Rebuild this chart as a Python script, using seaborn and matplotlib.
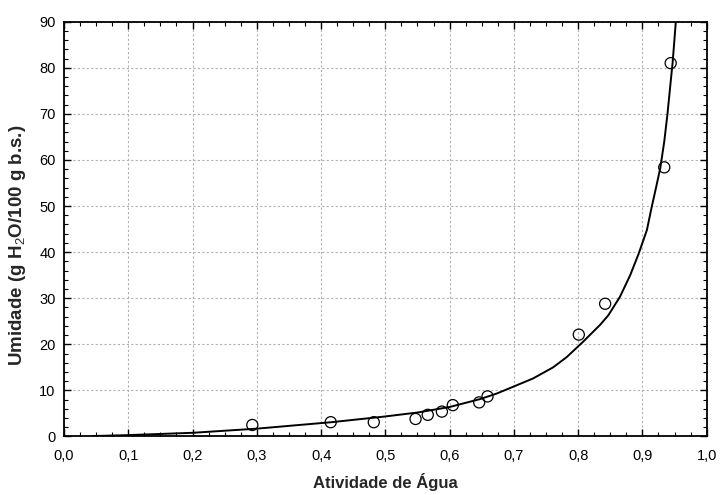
import matplotlib
matplotlib.use("Agg")
import matplotlib.pyplot as plt
from matplotlib.ticker import MultipleLocator, FuncFormatter
import pandas as pd
import seaborn as sns

aw_exp = [0.293, 0.415, 0.482, 0.547, 0.566, 0.588, 0.605, 0.646, 0.659,
          0.801, 0.842, 0.934, 0.944]
umid_exp = [2.5, 3.1, 3.1, 3.8, 4.7, 5.4, 6.8, 7.4, 8.7,
            22.1, 28.8, 58.4, 81.0]

# curva ajustada
aw_fit = [0.045, 0.10, 0.20, 0.30, 0.416, 0.497, 0.55, 0.60, 0.647, 0.673,
          0.699, 0.730, 0.761, 0.782, 0.808, 0.834, 0.847, 0.865, 0.881,
          0.894, 0.907, 0.914, 0.922, 0.928, 0.934, 0.939, 0.944, 0.947,
          0.952]
umid_fit = [0.1, 0.3, 0.8, 1.7, 3.1, 4.3, 5.2, 6.4, 8.1, 9.3,
            10.8, 12.6, 15.0, 17.2, 20.6, 24.2, 26.3, 30.3, 35.0,
            39.6, 44.8, 49.5, 54.5, 58.4, 64.0, 70.0, 77.0, 81.1,
            90.0]

sns.set_theme(style="ticks")
plt.rcParams["font.family"] = ["Liberation Sans", "DejaVu Sans"]
plt.rcParams["mathtext.fontset"] = "custom"
plt.rcParams["mathtext.rm"] = "Liberation Sans"
plt.rcParams["mathtext.it"] = "Liberation Sans:italic"
plt.rcParams["mathtext.bf"] = "Liberation Sans:bold"

df_exp = pd.DataFrame({"aw": aw_exp, "u": umid_exp})
df_fit = pd.DataFrame({"aw": aw_fit, "u": umid_fit})

fig = plt.figure(figsize=(7.2, 4.95), dpi=100)
ax = fig.add_axes([0.0889, 0.1182, 0.8926, 0.8380])

sns.lineplot(data=df_fit, x="aw", y="u", color="black", linewidth=1.4,
             sort=False, estimator=None, ax=ax, zorder=3)
sns.scatterplot(data=df_exp, x="aw", y="u", s=64, facecolor="none",
                edgecolor="black", linewidth=0.9, ax=ax, zorder=4)

ax.set_xlim(0, 1.0)
ax.set_ylim(0, 90)
ax.xaxis.set_major_locator(MultipleLocator(0.1))
ax.xaxis.set_minor_locator(MultipleLocator(0.025))
ax.yaxis.set_major_locator(MultipleLocator(10))
ax.yaxis.set_minor_locator(MultipleLocator(2))
ax.xaxis.set_major_formatter(FuncFormatter(lambda v, p: f"{v:.1f}".replace(".", ",")))

ax.grid(True, which="major", color="#b0b0b0", linestyle=(0, (2, 2)), linewidth=0.8)
ax.tick_params(which="both", direction="in", top=True, right=True,
               color="black", labelsize=10.5, colors="black")
ax.tick_params(which="major", length=5, width=1)
ax.tick_params(which="minor", length=3, width=0.8)
ax.tick_params(axis="x", which="major", pad=9)
ax.tick_params(axis="y", which="major", pad=6)
for s in ax.spines.values():
    s.set_visible(True)
    s.set_color("black")
    s.set_linewidth(1.3)

ax.set_xlabel("Atividade de Água", fontsize=12, fontweight="bold", labelpad=7)
ax.set_ylabel(r"Umidade (g H$_{2}$O/100 g b.s.)", fontsize=13.5,
              fontweight="bold")
ax.yaxis.set_label_coords(-0.056, 0.46)

fig.savefig("out.png", dpi=100)
